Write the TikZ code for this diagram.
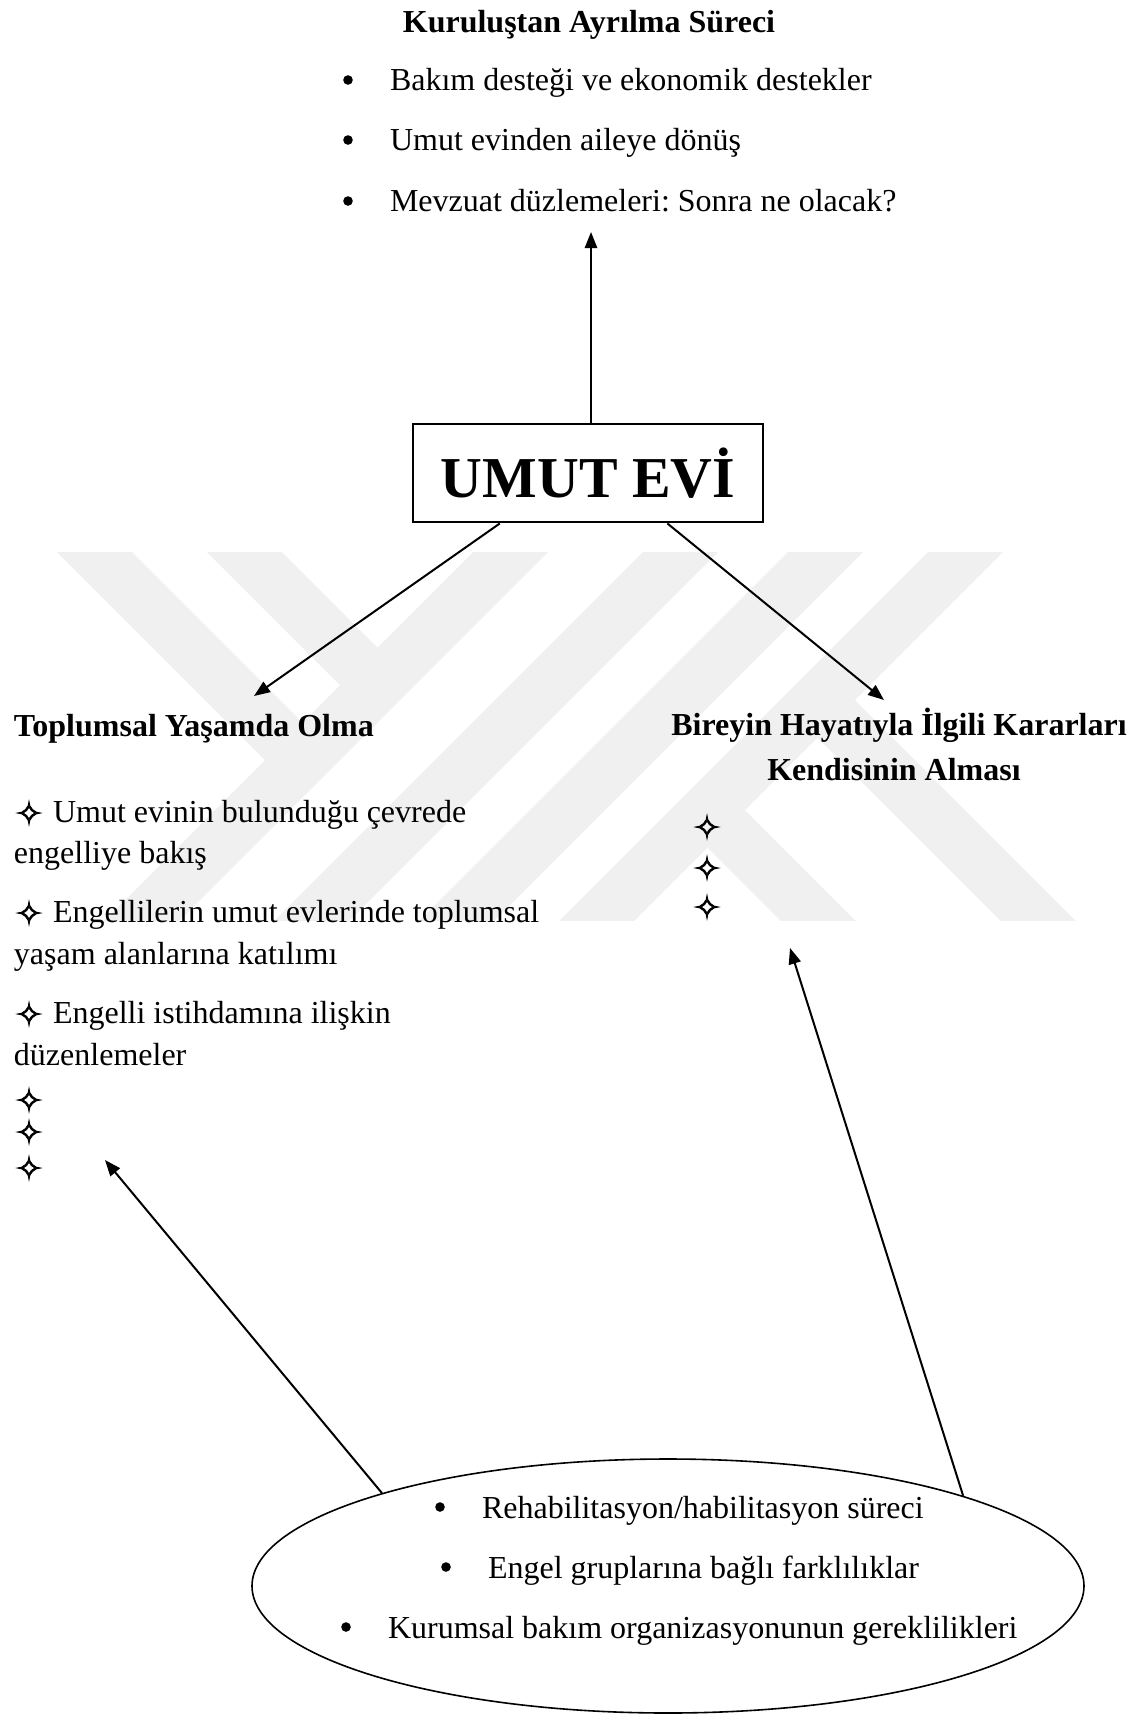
\documentclass[tikz,border=0pt]{standalone}
\usepackage{fontspec}
\setmainfont{Liberation Serif}
\newfontface\sparkfont{DejaVu Sans}[FakeBold=2]
\usetikzlibrary{arrows.meta, shapes.geometric, calc}
\newcommand{\sparkle}{{\sparkfont\fontsize{12}{12}\selectfont ✧}}
\frenchspacing

\begin{document}
\begin{tikzpicture}[x=0.375pt, y=-0.375pt, >={Triangle[length=6pt,width=4.6pt]}, line width=0.75pt,
            font=\fontsize{12}{14.4}\selectfont,
            bodytxt/.style={anchor=base west, inner sep=0pt},
            headtxt/.style={inner sep=0pt, font=\fontsize{12}{14.4}\selectfont\bfseries},
            bulletmk/.style={circle, fill, inner sep=0pt, minimum size=3.6pt},
            sparkmk/.style={inner sep=0pt},
            wmark/.style={fill=black!6}]
            \useasboundingbox (0,0) rectangle (1140,1716);

            % faint watermark
            \begin{scope}
            \clip (30,552) rectangle (1110,920);
            \fill[wmark] (475,550) -- (550,550) -- (178,922) -- (103,922) -- cycle;
            \fill[wmark] (645,550) -- (720,550) -- (348,922) -- (273,922) -- cycle;
            \fill[wmark] (790,550) -- (865,550) -- (493,922) -- (418,922) -- cycle;
            \fill[wmark] (930,550) -- (1005,550) -- (633,922) -- (558,922) -- cycle;
            \fill[wmark] (55,550) -- (130,550) -- (302.5,722.5) -- (265,760) -- cycle;
            \fill[wmark] (205,550) -- (280,550) -- (377.5,647.5) -- (340,685) -- cycle;
            \fill[wmark] (855,700) -- (1077,922) -- (1002,922) -- (817.5,737.5) -- cycle;
            \fill[wmark] (745,810) -- (857,922) -- (782,922) -- (707.5,847.5) -- cycle;
            \end{scope}

            % leaving the institution
            \node[headtxt, anchor=base] (title) at (589,32) {Kuruluştan Ayrılma Süreci};
            \node[bulletmk] (tb1) at (348,80) {};
            \node[bodytxt]  (t1)  at (389,90) {Bakım desteği ve ekonomik destekler};
            \node[bulletmk] (tb2) at (348,140) {};
            \node[bodytxt]  (t2)  at (389,150) {Umut evinden aileye dönüş};
            \node[bulletmk] (tb3) at (348,201) {};
            \node[bodytxt]  (t3)  at (389,211) {Mevzuat düzlemeleri: Sonra ne olacak?};

            \node[draw, minimum width=131.6pt, minimum height=37.1pt,
                  font=\bfseries\fontsize{21.7}{26}\selectfont] (home) at (588,473) {UMUT EVİ};

            \coordinate (uptip) at (591,232);
            \coordinate (ltip)  at (254,696);
            \coordinate (rtip)  at (884,700);
            \draw[->] (home.north -| uptip) -- (uptip);
            \draw[->] ($(home.south west)!0.25!(home.south east)$) -- (ltip);
            \draw[->] ($(home.south west)!0.725!(home.south east)$) -- (rtip);

            % social life
            \node[headtxt, anchor=base west] (lhead) at (13,736) {Toplumsal Yaşamda Olma};
            \node[sparkmk] (ls1) at (29,813) {\sparkle};
            \node[bodytxt] (l1)  at (52,822) {Umut evinin bulunduğu çevrede};
            \node[bodytxt] (l1b) at (13,863) {engelliye bakış};
            \node[sparkmk] (ls2) at (29,913) {\sparkle};
            \node[bodytxt] (l2)  at (52,922) {Engellilerin umut evlerinde toplumsal};
            \node[bodytxt] (l2b) at (13,964) {yaşam alanlarına katılımı};
            \node[sparkmk] (ls3) at (29,1014) {\sparkle};
            \node[bodytxt] (l3)  at (52,1023) {Engelli istihdamına ilişkin};
            \node[bodytxt] (l3b) at (13,1065) {düzenlemeler};
            \foreach \y [count=\i] in {1100,1132,1168}
                \node[sparkmk] (le\i) at (29,\y) {\sparkle};

            % own decisions
            \node[headtxt, anchor=base] (rhead1) at (899,735) {Bireyin Hayatıyla İlgili Kararları};
            \node[headtxt, anchor=base] (rhead2) at (894,780) {Kendisinin Alması};
            \foreach \y [count=\i] in {827,868,907}
                \node[sparkmk] (re\i) at (707,\y) {\sparkle};

            % institutional factors
            \node[draw, ellipse, line width=0.6pt, minimum width=312pt, minimum height=95.25pt, inner sep=0pt] (pool) at (668,1586) {};
            \node[bulletmk] (eb1) at (440,1507) {};
            \node[bodytxt]  (e1)  at (481,1518) {Rehabilitasyon/habilitasyon süreci};
            \node[bulletmk] (eb2) at (446,1567) {};
            \node[bodytxt]  (e2)  at (487,1578) {Engel gruplarına bağlı farklılıklar};
            \node[bulletmk] (eb3) at (346,1627) {};
            \node[bodytxt]  (e3)  at (387,1638) {Kurumsal bakım organizasyonunun gereklilikleri};

            \coordinate (lltip) at (105,1160);
            \coordinate (rrtip) at (790,948);
            \draw[->] (pool.162) -- (lltip);
            \draw[->] (pool.17.5) -- (rrtip);
\end{tikzpicture}
\end{document}
